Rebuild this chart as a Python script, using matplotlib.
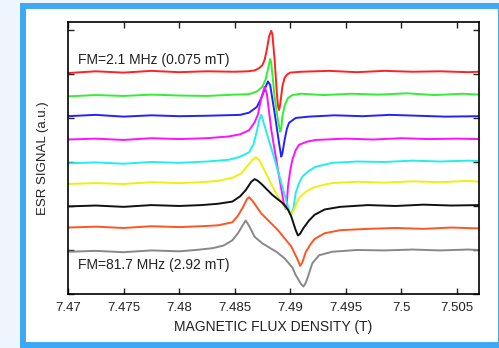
import matplotlib.pyplot as plt
from matplotlib.patches import Rectangle

plt.rcParams['font.family'] = ['Liberation Sans', 'DejaVu Sans']

# field (T) and signal (a.u.), top trace first
red_x = [7.4700, 7.4725, 7.4750, 7.4775, 7.4800, 7.4825, 7.4850, 7.4862, 7.4868, 7.4872, 7.4875,
         7.4877, 7.4879, 7.4881, 7.4883, 7.4884, 7.4886, 7.4888, 7.4889, 7.4890, 7.4891, 7.4893,
         7.4895, 7.4897, 7.4900, 7.4910, 7.4935, 7.4960, 7.4985, 7.5010, 7.5035, 7.5060, 7.5070]
red_y = [5.02, 5.06, 5.03, 5.07, 5.04, 5.06, 5.05, 5.06, 5.08, 5.13, 5.20, 5.32, 5.55, 5.85, 5.98,
         5.90, 5.32, 4.57, 4.28, 4.18, 4.30, 4.72, 4.91, 4.98, 5.03, 5.05, 5.07, 5.04, 5.07, 5.05,
         5.06, 5.04, 5.05]

green_x = [7.4700, 7.4725, 7.4750, 7.4775, 7.4800, 7.4825, 7.4850, 7.4863, 7.4870, 7.4875, 7.4878,
           7.4880, 7.4882, 7.4883, 7.4886, 7.4889, 7.4891, 7.4892, 7.4893, 7.4895, 7.4898, 7.4902,
           7.4910, 7.4930, 7.4955, 7.4980, 7.5005, 7.5030, 7.5055, 7.5070]
green_y = [4.49, 4.52, 4.50, 4.53, 4.51, 4.50, 4.53, 4.54, 4.60, 4.71, 4.88, 5.10, 5.34, 5.25, 4.48,
           3.95, 3.69, 3.75, 4.03, 4.28, 4.45, 4.52, 4.55, 4.52, 4.55, 4.53, 4.56, 4.52, 4.55, 4.53]

blue_x = [7.4700, 7.4725, 7.4750, 7.4775, 7.4800, 7.4825, 7.4855, 7.4863, 7.4870, 7.4874, 7.4877,
          7.4880, 7.4882, 7.4886, 7.4890, 7.4892, 7.4893, 7.4895, 7.4897, 7.4899, 7.4905, 7.4917,
          7.4940, 7.4965, 7.4990, 7.5015, 7.5040, 7.5070]
blue_y = [4.04, 4.07, 4.03, 4.06, 4.04, 4.05, 4.07, 4.12, 4.25, 4.45, 4.65, 4.83, 4.75, 4.11, 3.43,
          3.12, 3.20, 3.50, 3.75, 3.89, 4.00, 4.03, 4.06, 4.04, 4.07, 4.05, 4.03, 4.04]

magenta_x = [7.4700, 7.4725, 7.4750, 7.4775, 7.4800, 7.4825, 7.4845, 7.4855, 7.4863, 7.4868, 7.4871,
             7.4874, 7.4877, 7.4879, 7.4883, 7.4889, 7.4894, 7.4896, 7.4897, 7.4898, 7.4900, 7.4902,
             7.4905, 7.4908, 7.4915, 7.4923, 7.4950, 7.4975, 7.5000, 7.5025, 7.5050, 7.5070]
magenta_y = [3.51, 3.53, 3.50, 3.54, 3.52, 3.54, 3.58, 3.63, 3.72, 3.90, 4.08, 4.45, 4.71, 4.55, 3.73,
             2.82, 2.10, 1.93, 2.05, 2.44, 2.80, 3.05, 3.27, 3.39, 3.46, 3.50, 3.53, 3.51, 3.54, 3.52,
             3.53, 3.52]

cyan_x = [7.4700, 7.4725, 7.4750, 7.4775, 7.4800, 7.4825, 7.4845, 7.4855, 7.4863, 7.4867, 7.4870,
          7.4872, 7.4874, 7.4876, 7.4886, 7.4899, 7.4901, 7.4903, 7.4905, 7.4908, 7.4911, 7.4917,
          7.4923, 7.4938, 7.4960, 7.4985, 7.5010, 7.5035, 7.5060, 7.5070]
cyan_y = [2.97, 2.99, 2.96, 3.00, 2.98, 3.01, 3.05, 3.12, 3.22, 3.40, 3.70, 3.95, 4.07, 3.90, 3.06,
          1.90, 1.80, 1.95, 2.30, 2.52, 2.67, 2.80, 2.89, 2.98, 3.01, 3.00, 3.03, 3.01, 3.03, 3.02]

yellow_x = [7.4700, 7.4725, 7.4750, 7.4775, 7.4800, 7.4820, 7.4835, 7.4848, 7.4856, 7.4862, 7.4866,
            7.4869, 7.4872, 7.4878, 7.4887, 7.4896, 7.4900, 7.4902, 7.4904, 7.4908, 7.4914, 7.4920,
            7.4930, 7.4938, 7.4960, 7.4985, 7.5010, 7.5035, 7.5060, 7.5070]
yellow_y = [2.50, 2.52, 2.50, 2.54, 2.52, 2.54, 2.57, 2.64, 2.74, 2.92, 3.05, 3.11, 3.05, 2.75, 2.30,
            1.95, 1.86, 1.84, 1.95, 2.18, 2.32, 2.41, 2.48, 2.52, 2.55, 2.53, 2.56, 2.54, 2.57, 2.55]

black_x = [7.4700, 7.4725, 7.4750, 7.4775, 7.4800, 7.4820, 7.4835, 7.4848, 7.4855, 7.4860, 7.4865,
           7.4868, 7.4871, 7.4875, 7.4884, 7.4893, 7.4898, 7.4901, 7.4905, 7.4907, 7.4909, 7.4912,
           7.4917, 7.4922, 7.4931, 7.4945, 7.4970, 7.4995, 7.5020, 7.5045, 7.5070]
black_y = [1.99, 2.01, 1.98, 2.02, 2.00, 2.02, 2.05, 2.10, 2.22, 2.36, 2.55, 2.61, 2.57, 2.48, 2.25,
           2.07, 1.92, 1.76, 1.45, 1.33, 1.37, 1.50, 1.67, 1.80, 1.92, 1.98, 2.02, 2.00, 2.03, 2.01,
           2.02]

orange_x = [7.4700, 7.4725, 7.4750, 7.4775, 7.4800, 7.4820, 7.4835, 7.4848, 7.4853, 7.4857, 7.4861,
            7.4863, 7.4866, 7.4874, 7.4889, 7.4901, 7.4906, 7.4909, 7.4911, 7.4914, 7.4918, 7.4922,
            7.4931, 7.4945, 7.4970, 7.4995, 7.5020, 7.5045, 7.5070]
orange_y = [1.51, 1.53, 1.50, 1.54, 1.52, 1.54, 1.56, 1.63, 1.78, 1.95, 2.15, 2.20, 2.12, 1.83, 1.45,
            1.08, 0.82, 0.64, 0.72, 0.95, 1.12, 1.25, 1.38, 1.45, 1.48, 1.50, 1.48, 1.51, 1.49]

gray_x = [7.4700, 7.4725, 7.4750, 7.4775, 7.4800, 7.4815, 7.4830, 7.4840, 7.4848, 7.4853, 7.4857,
          7.4860, 7.4863, 7.4868, 7.4875, 7.4880, 7.4888, 7.4895, 7.4902, 7.4905, 7.4910, 7.4912,
          7.4914, 7.4917, 7.4920, 7.4926, 7.4938, 7.4960, 7.4985, 7.5010, 7.5035, 7.5060, 7.5070]
gray_y = [0.96, 0.98, 0.95, 0.99, 0.97, 1.00, 1.04, 1.10, 1.22, 1.38, 1.55, 1.67, 1.55, 1.30, 1.15,
          1.075, 0.95, 0.81, 0.60, 0.43, 0.22, 0.17, 0.25, 0.47, 0.70, 0.88, 0.96, 1.00, 0.99, 1.01,
          0.99, 1.01, 1.00]

traces = [
    (red_x, red_y, '#ff2222'),
    (green_x, green_y, '#33ee33'),
    (blue_x, blue_y, '#2222ff'),
    (magenta_x, magenta_y, '#ff11ff'),
    (cyan_x, cyan_y, '#22eeee'),
    (yellow_x, yellow_y, '#eeee11'),
    (black_x, black_y, '#111111'),
    (orange_x, orange_y, '#ff5522'),
    (gray_x, gray_y, '#888888'),
]

x_ticks = [7.47, 7.475, 7.48, 7.485, 7.49, 7.495, 7.5, 7.505]
x_labels = ['7.47', '7.475', '7.48', '7.485', '7.49', '7.495', '7.5', '7.505']

fig = plt.figure(figsize=(4.99, 3.48), dpi=100)
fig.patch.set_facecolor('#eef5fd')

# white panel with blue frame (behind the axes)
fig.patches.append(Rectangle((23 / 499, 3 / 348), 478 / 499, 339 / 348,
                             transform=fig.transFigure, facecolor='white',
                             edgecolor='#3ea8f5', linewidth=4.3, zorder=-10))

ax = fig.add_axes([68 / 499, 54 / 348, 411 / 499, 272 / 348])
ax.set_zorder(5)
for xs, ys, c in traces:
    ax.plot(xs, ys, color=c, lw=1.4)

ax.set_xlim(7.47, 7.507)
ax.set_ylim(0, 6.18)
ax.set_xticks(x_ticks)
ax.set_xticklabels(x_labels)
ax.set_yticks([0, 1, 2, 3, 4, 5, 6])
ax.set_yticklabels([])
ax.tick_params(direction='in', top=True, right=True, length=4, width=1,
               labelsize=9.5, colors='#222222', pad=6)
for s in ax.spines.values():
    s.set_linewidth(1.2)

ax.set_xlabel('MAGNETIC FLUX DENSITY (T)', fontsize=10, color='#222222', labelpad=4)
ax.set_ylabel('ESR SIGNAL (a.u.)', fontsize=9.5, color='#222222', labelpad=8)

ax.text(7.4709, 5.32, 'FM=2.1 MHz (0.075 mT)', fontsize=10, color='#222222', va='center')
ax.text(7.4709, 0.66, 'FM=81.7 MHz (2.92 mT)', fontsize=10, color='#222222', va='center')

fig.savefig('out.png', dpi=100)
